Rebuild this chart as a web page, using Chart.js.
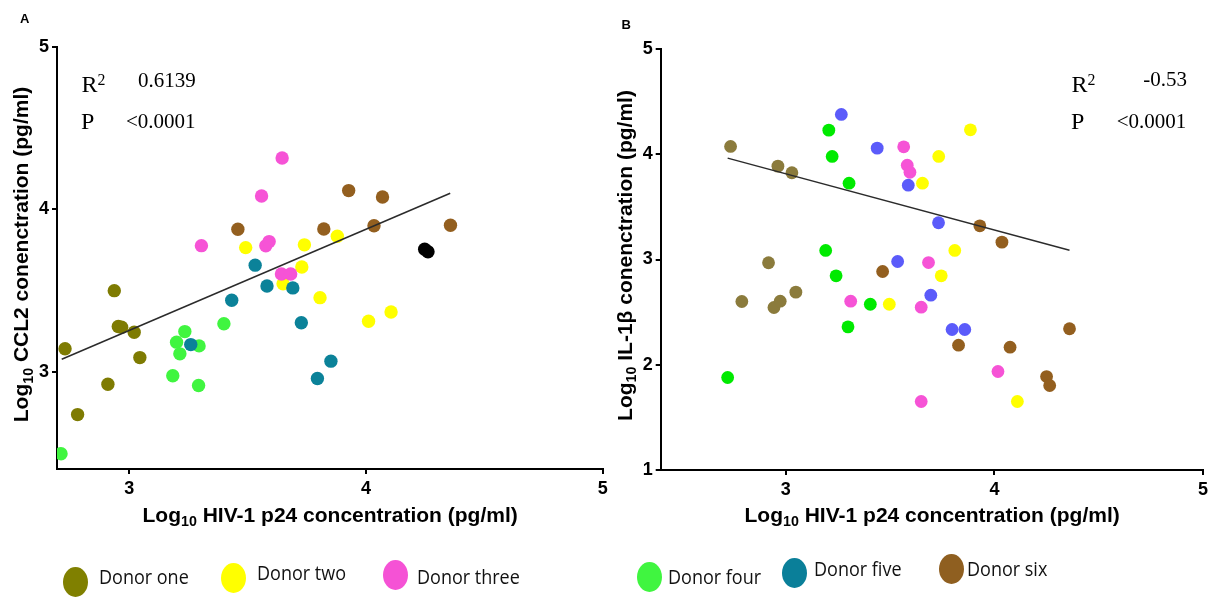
<!DOCTYPE html>
<html>
<head>
<meta charset="utf-8">
<script src="https://cdn.jsdelivr.net/npm/chart.js@4.4.1/dist/chart.umd.min.js"></script>
<style>
  html, body { margin: 0; padding: 0; background: #fff; }
  body { position: relative; width: 1212px; height: 597px; overflow: hidden; }
  canvas { position: absolute; left: 0; top: 0; }
  .t { position: absolute; white-space: nowrap; line-height: 1; color: #000; }
  .sans { font-family: "Liberation Sans", Arial, sans-serif; font-weight: bold; }
  .serif { font-family: "Liberation Serif", "Times New Roman", serif; }
  .sub { font-size: 0.68em; vertical-align: -0.3em; line-height: 0; }
  .sup { font-size: 0.66em; vertical-align: 0.42em; line-height: 0; }
  .dot { position: absolute; border-radius: 50%; }
  .lg { position: absolute; white-space: nowrap; line-height: 1;
        font-family: "Open Sans", "Noto Sans", sans-serif; font-size: 20px; color: #111;
        transform-origin: 0 50%; }
</style>
</head>
<body>
<canvas id="chartA" width="1212" height="597"></canvas>
<canvas id="chartB" width="1212" height="597"></canvas>
<script>
// ---- values: [log10 p24, log10 cytokine] per donor ----
const donorNames = ['Donor one', 'Donor two', 'Donor three', 'Donor four', 'Donor five', 'Donor six'];

// Panel A: CCL2
const ccl2DonorOne   = [[2.937,3.498],[2.729,3.140],[2.954,3.277],[2.968,3.273],[3.021,3.242],[3.045,3.086],[2.910,2.922],[2.782,2.735]];
const ccl2DonorTwo   = [[3.492,3.763],[3.740,3.780],[3.879,3.833],[3.729,3.644],[3.650,3.540],[3.806,3.455],[4.011,3.310],[4.106,3.367]];
const ccl2DonorThree = [[3.646,4.315],[3.559,4.081],[3.305,3.775],[3.577,3.774],[3.591,3.800],[3.643,3.601],[3.682,3.601]];
const ccl2DonorFour  = [[2.712,2.494],[3.400,3.294],[3.235,3.246],[3.200,3.181],[3.214,3.109],[3.295,3.158],[3.184,2.974],[3.293,2.914]];
const ccl2DonorFive  = [[3.532,3.655],[3.433,3.439],[3.582,3.527],[3.691,3.515],[3.727,3.300],[3.852,3.064],[3.795,2.957],[3.260,3.166]];
const ccl2DonorSix   = [[3.459,3.876],[3.927,4.114],[4.070,4.075],[3.822,3.878],[4.034,3.898],[4.357,3.901]];
const ccl2Unlabelled = [[4.248,3.753],[4.262,3.738]];
const ccl2Trend      = [[2.715,3.076],[4.356,4.098]];

// Panel B: IL-1β
const il1bDonorOne   = [[2.735,4.074],[2.962,3.887],[3.029,3.824],[2.917,2.969],[2.789,2.601],[3.048,2.690],[2.943,2.544],[2.973,2.604]];
const il1bDonorTwo   = [[3.885,4.232],[3.733,3.979],[3.655,3.725],[3.810,3.086],[3.745,2.845],[3.496,2.575],[4.110,1.651]];
const il1bDonorThree = [[3.565,4.071],[3.582,3.896],[3.595,3.829],[3.684,2.971],[3.311,2.604],[3.649,2.547],[4.017,1.936],[3.649,1.651]];
const il1bDonorFour  = [[3.206,4.229],[3.222,3.979],[3.303,3.725],[3.191,3.086],[3.241,2.845],[3.405,2.575],[3.298,2.360],[2.721,1.879]];
const il1bDonorFive  = [[3.266,4.378],[3.438,4.058],[3.587,3.706],[3.732,3.349],[3.536,2.981],[3.695,2.661],[3.797,2.335],[3.858,2.335]];
const il1bDonorSix   = [[3.930,3.320],[4.036,3.165],[3.464,2.886],[4.360,2.342],[3.828,2.186],[4.075,2.167],[4.250,1.888],[4.265,1.803]];
const il1bTrend      = [[2.721,3.963],[4.360,3.088]];

// tick values
const xTicks = [3, 4, 5];
const ccl2YTicks = [3, 4, 5];
const il1bYTicks = [1, 2, 3, 4, 5];

// fit statistics
const ccl2Stats = { r2: '0.6139', p: '<0.0001' };
const il1bStats = { r2: '-0.53', p: '<0.0001' };

// ---- colours ----
const ccl2Colors = ['#7e7b02', '#ffff00', '#f653d6', '#40f540', '#0b8299', '#935f1f'];
const il1bColors = ['#8b7b3c', '#ffff00', '#f653d6', '#00ea00', '#5b5bfa', '#935f1f'];
const legendColors = ['#808000', '#ffff00', '#f552d5', '#40f540', '#0a7f99', '#8f5f20'];

const toXY = arr => arr.map(p => ({ x: p[0], y: p[1] }));

function pointSet(arr, color, r, idx) {
  return {
    type: 'scatter', data: toXY(arr), backgroundColor: color, borderWidth: 0,
    pointRadius: r, pointHoverRadius: r, order: -idx
  };
}
function trendSet(arr) {
  return {
    type: 'line', data: toXY(arr), borderColor: '#2b2b2b', borderWidth: 1.5,
    pointRadius: 0, fill: false, tension: 0, order: -100
  };
}

function axis(min, max, ticks, isY, size) {
  return {
    type: 'linear', min: min, max: max,
    afterBuildTicks: s => { s.ticks = ticks.map(v => ({ value: v })); },
    afterFit: s => { if (isY) s.width = size; else s.height = size; },
    grid: { display: true, drawOnChartArea: false, drawTicks: true, tickLength: 5, color: '#000', lineWidth: 2 },
    border: { display: true, color: '#000', width: 2 },
    ticks: {
      color: '#000', padding: isY ? 3 : 4, maxRotation: 0, autoSkip: false,
      font: { family: '"Liberation Sans", Arial, sans-serif', weight: 'bold', size: 18 },
      callback: v => String(v)
    }
  };
}

function makeChart(id, sets, colors, trend, xr, yr, yTicks, pad, radius) {
  const ds = sets.map((s, i) => pointSet(s, colors[i], radius, i));
  ds.push(trendSet(trend));
  return new Chart(document.getElementById(id), {
    type: 'scatter',
    data: { datasets: ds },
    options: {
      responsive: false, animation: false, events: [],
      layout: { padding: pad },
      plugins: { legend: { display: false }, tooltip: { enabled: false } },
      scales: {
        x: axis(xr[0], xr[1], xTicks, false, 60),
        y: axis(yr[0], yr[1], yTicks, true, 50)
      }
    }
  });
}

makeChart('chartA',
  [ccl2DonorOne, ccl2DonorTwo, ccl2DonorThree, ccl2DonorFour, ccl2DonorFive, ccl2DonorSix, ccl2Unlabelled],
  ccl2Colors.concat(['#000000']), ccl2Trend, [2.695, 5], [2.4, 5], ccl2YTicks,
  { left: 7, top: 46.7, right: 609.3, bottom: 68 }, 6.7);

makeChart('chartB',
  [il1bDonorOne, il1bDonorTwo, il1bDonorThree, il1bDonorFour, il1bDonorFive, il1bDonorSix],
  il1bColors, il1bTrend, [2.4, 5], [1, 5], il1bYTicks,
  { left: 610.7, top: 49, right: 8.7, bottom: 67 }, 6.4);

// ---- text: titles, statistics, panel letters ----
// baseline offsets for line-height:1 boxes
const ASC = { sans: 0.8465, serif: 0.8375 };

function text(html, cls, size, x, base, align) {
  const d = document.createElement('div');
  d.className = 't ' + cls;
  d.style.fontSize = size + 'px';
  d.innerHTML = html;
  d.style.top = (base - ASC[cls] * size) + 'px';
  document.body.appendChild(d);
  if (align === 'center') d.style.left = (x - d.offsetWidth / 2) + 'px';
  else if (align === 'right') d.style.left = (x - d.offsetWidth) + 'px';
  else d.style.left = x + 'px';
  return d;
}
function vtext(html, size, cx, cy) {
  const d = document.createElement('div');
  d.className = 't sans';
  d.style.fontSize = size + 'px';
  d.innerHTML = html;
  document.body.appendChild(d);
  d.style.left = (cx - d.offsetWidth / 2) + 'px';
  d.style.top = (cy - d.offsetHeight / 2) + 'px';
  d.style.transform = 'rotate(-90deg)';
  return d;
}

const LOG = 'Log<span class="sub">10</span>';
const xTitle = LOG + ' HIV-1 p24 concentration (pg/ml)';

text('A', 'sans', 13, 20, 23);
text('B', 'sans', 13, 621.5, 29.3);

text(xTitle, 'sans', 21, 330, 521.5, 'center');
text(xTitle, 'sans', 21, 932, 521.5, 'center');
vtext(LOG + ' CCL2 conenctration (pg/ml)', 21, 20.5, 254.5);
vtext(LOG + ' IL-1β conenctration (pg/ml)', 21, 624.2, 255);

// statistics, panel A
text('R<span class="sup">2</span>', 'serif', 24, 81.5, 91.7);
text(ccl2Stats.r2, 'serif', 21, 138, 87.3);
text('P', 'serif', 24, 81, 129.3);
text(ccl2Stats.p, 'serif', 21, 126, 128.3);
// statistics, panel B
text('R<span class="sup">2</span>', 'serif', 24, 1071.5, 91.7);
text(il1bStats.r2, 'serif', 21, 1187.3, 86.7, 'right');
text('P', 'serif', 24, 1071, 129.3);
text(il1bStats.p, 'serif', 21, 1186.7, 128.3, 'right');

// ---- legend ----
const legendDots = [[75, 581.7], [233.3, 578.3], [395.7, 575], [649.3, 577.3], [794, 573.3], [951, 569.3]];
const legendText = [[99.3, 576.7], [257.3, 572.7], [416.7, 576.7], [668.3, 576.7], [814.3, 569.3], [966.7, 569.3]];
donorNames.forEach((name, i) => {
  const dot = document.createElement('div');
  dot.className = 'dot';
  dot.style.width = '25px';
  dot.style.height = '30px';
  dot.style.left = (legendDots[i][0] - 12.5) + 'px';
  dot.style.top = (legendDots[i][1] - 15) + 'px';
  dot.style.background = legendColors[i];
  document.body.appendChild(dot);

  const lab = document.createElement('div');
  lab.className = 'lg';
  lab.textContent = name;
  document.body.appendChild(lab);
  lab.style.left = legendText[i][0] + 'px';
  lab.style.top = (legendText[i][1] - lab.offsetHeight / 2) + 'px';
  lab.style.transform = 'scaleX(0.9)';
});
</script>
</body>
</html>
